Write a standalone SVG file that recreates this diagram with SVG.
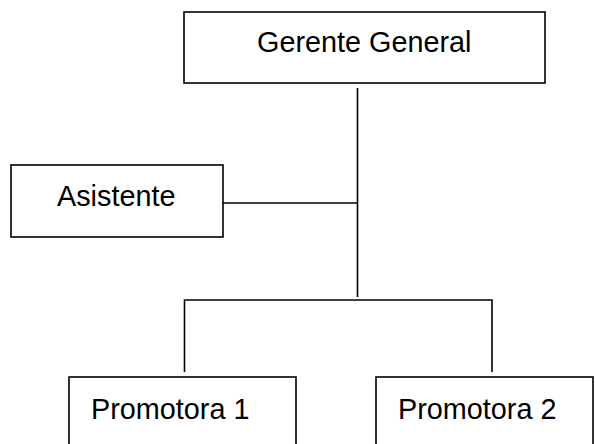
<svg xmlns="http://www.w3.org/2000/svg" width="595" height="444" viewBox="0 0 595 444">
<style>
.box{fill:#fff;stroke:#000;stroke-width:1.6}
.lbl{font-family:"Liberation Sans",Arial,sans-serif;font-size:28.8px;fill:#000}
.con{fill:none;stroke:#000;stroke-width:1.6}
</style>
<rect width="595" height="444" fill="#fff"/>
<g id="connectors">
<path class="con" d="M357.5 88 V297"/>
<path class="con" d="M223 203 H357.5"/>
<path class="con" d="M184.5 372 V300 H492 V372"/>
</g>
<g id="gerente">
<rect class="box" x="184" y="12" width="361" height="71"/>
<text class="lbl" x="257" y="52">Gerente General</text>
</g>
<g id="asistente">
<rect class="box" x="11" y="165" width="212" height="72"/>
<text class="lbl" x="57" y="206">Asistente</text>
</g>
<g id="promotora1">
<rect class="box" x="69" y="377" width="227" height="80"/>
<text class="lbl" x="91" y="419">Promotora 1</text>
</g>
<g id="promotora2">
<rect class="box" x="376" y="377" width="217" height="80"/>
<text class="lbl" x="398" y="419">Promotora 2</text>
</g>
</svg>
